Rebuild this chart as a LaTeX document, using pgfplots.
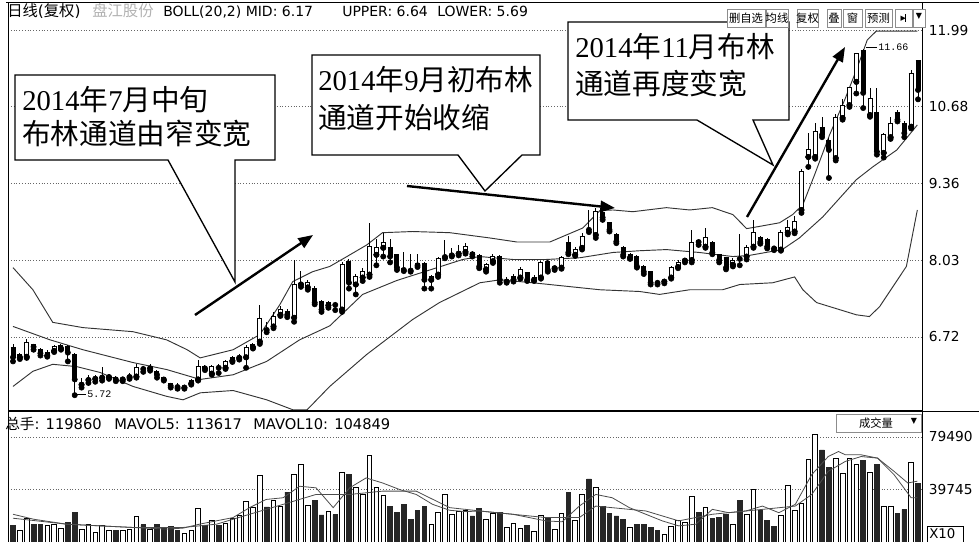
\documentclass[border=0pt]{standalone}
\usepackage{fontspec}
\setmainfont{DejaVu Sans}
\newfontfamily\cjk{Noto Sans CJK SC}
\newfontfamily\serif{Liberation Serif}
\newfontfamily\mono{Liberation Mono}
\usepackage{pgfplots}
\pgfplotsset{compat=1.18}
\usepackage{pgfplotstable}
\usetikzlibrary{arrows.meta}

\newcommand{\cn}[1]{{\cjk #1}}
\newcommand{\callfont}{\fontsize{21.5}{24}\selectfont}

% candles: index, open, high, low, close, volume
\pgfplotstableread{
i O H L C V
0 6.54 6.59 6.30 6.37 12200
1 6.37 6.45 6.34 6.42 9000
2 6.38 6.68 6.36 6.62 18000
3 6.59 6.60 6.50 6.55 13500
4 6.50 6.53 6.40 6.44 13500
5 6.40 6.50 6.38 6.45 12200
6 6.48 6.58 6.46 6.55 13500
7 6.52 6.60 6.50 6.57 10500
8 6.55 6.58 6.30 6.45 14700
9 6.42 6.45 5.72 5.99 22200
10 5.90 6.02 5.85 5.92 9750
11 5.98 6.06 5.93 6.00 13500
12 6.00 6.07 5.95 6.01 7250
13 6.02 6.20 5.97 6.03 12200
14 6.03 6.06 6.00 6.04 9000
15 6.03 6.05 5.96 5.99 9000
16 5.99 6.03 5.96 6.00 9000
17 6.03 6.10 6.00 6.05 9750
18 6.04 6.25 6.02 6.19 19700
19 6.18 6.22 6.12 6.17 13000
20 6.18 6.26 6.14 6.19 9750
21 6.13 6.15 6.02 6.07 13000
22 6.03 6.04 5.97 5.99 11000
23 5.92 5.93 5.85 5.88 11500
24 5.87 5.93 5.83 5.86 8500
25 5.85 5.90 5.83 5.86 6500
26 5.92 6.00 5.90 5.98 9000
27 5.99 6.33 5.97 6.21 25500
28 6.21 6.23 6.15 6.18 12200
29 6.09 6.24 6.07 6.21 16000
30 6.20 6.25 6.10 6.19 12200
31 6.19 6.32 6.17 6.29 14000
32 6.31 6.39 6.29 6.36 18000
33 6.36 6.42 6.33 6.37 20500
34 6.37 6.58 6.19 6.54 30500
35 6.54 6.62 6.52 6.59 26000
36 6.64 7.27 6.60 7.03 50500
37 6.86 6.98 6.80 6.84 26500
38 6.90 7.15 6.87 7.07 31500
39 7.10 7.25 7.08 7.19 27200
40 7.15 7.20 7.06 7.10 37700
41 7.05 8.04 6.98 7.62 51500
42 7.62 7.85 7.58 7.63 59000
43 7.57 7.70 7.53 7.65 28000
44 7.56 7.60 7.28 7.31 31500
45 7.33 7.36 7.15 7.19 20500
46 7.26 7.34 7.22 7.31 23000
47 7.28 7.32 7.18 7.27 20700
48 7.19 8.00 7.15 7.96 52700
49 8.01 8.05 7.55 7.65 51000
50 7.62 7.80 7.45 7.75 41000
51 7.74 7.90 7.68 7.84 36000
52 7.79 8.68 7.75 8.27 65500
53 8.13 8.40 7.95 8.25 41000
54 8.25 8.51 8.10 8.34 35200
55 8.25 8.40 8.00 8.10 27200
56 8.13 8.15 7.87 7.91 22200
57 7.89 8.17 7.85 7.87 28200
58 7.87 8.15 7.84 7.86 17000
59 7.98 8.15 7.92 7.95 24000
60 7.98 8.00 7.55 7.70 27200
61 7.70 7.79 7.55 7.75 13000
62 7.79 8.10 7.75 8.06 22200
63 8.09 8.39 8.07 8.10 36000
64 8.12 8.25 8.10 8.13 20700
65 8.15 8.30 8.12 8.16 23000
66 8.18 8.33 8.15 8.27 24000
67 8.17 8.19 8.10 8.14 19700
68 8.12 8.15 7.90 7.93 25500
69 7.88 7.99 7.84 7.96 17000
70 8.02 8.14 7.99 8.10 21500
71 8.10 8.12 7.65 7.70 22200
72 7.67 7.75 7.65 7.68 11000
73 7.70 7.80 7.67 7.75 14000
74 7.74 7.92 7.72 7.87 10500
75 7.82 7.84 7.68 7.70 12200
76 7.70 7.78 7.68 7.74 8000
77 7.74 8.03 7.72 7.99 20500
78 8.01 8.04 7.84 7.87 18500
79 7.90 7.94 7.87 7.91 9750
80 7.91 8.11 7.89 8.08 21500
81 8.34 8.45 8.14 8.17 37700
82 8.13 8.26 8.11 8.22 16000
83 8.25 8.50 8.22 8.44 36000
84 8.57 8.90 8.52 8.56 47700
85 8.47 8.94 8.42 8.87 41500
86 8.85 8.90 8.73 8.77 27200
87 8.68 8.70 8.53 8.56 21500
88 8.48 8.50 8.33 8.36 19700
89 8.25 8.28 8.10 8.13 17000
90 8.08 8.16 8.06 8.13 11000
91 8.10 8.12 7.91 7.93 13500
92 7.93 7.95 7.80 7.84 13500
93 7.84 7.86 7.62 7.65 11000
94 7.66 7.69 7.62 7.65 8500
95 7.67 7.72 7.64 7.68 6000
96 7.74 7.94 7.72 7.91 11500
97 7.92 8.04 7.90 7.99 16000
98 8.03 8.08 8.00 8.04 14700
99 8.04 8.56 8.00 8.35 34700
100 8.37 8.40 8.30 8.35 22200
101 8.27 8.59 8.25 8.42 26500
102 8.34 8.37 8.14 8.17 17700
103 8.13 8.15 8.00 8.04 18500
104 8.08 8.10 7.88 7.91 21000
105 7.96 8.08 7.93 8.04 13500
106 8.07 8.48 7.95 8.06 31500
107 8.10 8.30 8.05 8.25 21000
108 8.27 8.73 8.25 8.51 39700
109 8.42 8.45 8.32 8.35 23700
110 8.39 8.42 8.24 8.27 16000
111 8.25 8.28 8.21 8.24 11500
112 8.22 8.55 8.20 8.51 20500
113 8.51 8.73 8.48 8.60 42700
114 8.53 8.80 8.50 8.70 23700
115 8.90 9.60 8.85 9.56 29200
116 9.81 10.22 9.64 9.93 62200
117 9.81 10.40 9.78 10.24 81500
118 10.31 10.50 10.15 10.19 69700
119 10.10 10.14 9.45 9.93 56500
120 9.79 10.55 9.75 10.48 63500
121 10.48 10.80 10.45 10.70 52200
122 10.70 11.02 10.67 11.00 63500
123 11.10 11.60 10.90 11.58 59000
124 11.64 11.66 10.65 10.91 61500
125 10.53 11.00 10.50 10.82 53000
126 10.58 11.00 9.85 9.90 59000
127 9.88 10.23 9.80 10.19 27200
128 10.15 10.50 10.12 10.39 27200
129 10.57 10.62 10.42 10.45 21500
130 10.39 10.42 10.15 10.22 24700
131 10.33 11.30 10.30 11.25 60500
132 11.47 11.48 10.80 10.96 44000
}\kdata

\pgfplotsset{
  kpanel/.style={scale only axis, anchor=south west, width=685.5pt,
    xmin=-0.73, xmax=132.58, xtick=\empty,
    axis line style={line width=0.75pt},
    ytick pos=right, yticklabel pos=right, major tick length=0pt,
    scaled y ticks=false,
    ymajorgrids, major grid style={black!60, line width=0.6pt, dash pattern=on 0.6pt off 1.5pt},
    yticklabel style={anchor=west, inner sep=0pt, xshift=5pt, font=\fontsize{10.3}{12}\selectfont},
    clip=true},
  wick/.style={only marks, mark=none,
    error bars/.cd, y dir=plus, y explicit, error mark=none,
    error bar style={line width=0.75pt, draw=black}},
  up/.style={x filter/.expression={\thisrow{C}<\thisrow{O} ? nan : x}},
  down/.style={x filter/.expression={\thisrow{C}<\thisrow{O} ? x : nan}},
}

\begin{document}
\begin{tikzpicture}
\useasboundingbox (0,0) rectangle (734.25pt,-406.5pt);

% price panel
\begin{axis}[kpanel, at={(6pt,-308.25pt)}, height=306pt,
  ymin=5.448, ymax=12.454,
  ytick={6.72,8.03,9.36,10.68,11.99}, yticklabels={6.72,8.03,9.36,10.68,11.99}]
% Bollinger bands
\addplot[black!80, line width=0.7pt, mark=none] coordinates {
(0,7.91) (2.9,7.53) (5.8,6.97) (10.2,6.88) (17.5,6.81) (22.4,6.67) (25.4,6.50)
(27.3,6.36) (32.1,6.50) (36.0,6.76) (38.9,7.27) (40.8,7.67) (43.7,7.84) (46.2,7.93)
(48.7,8.10) (51.6,8.30) (53.9,8.51) (58.3,8.53) (63.7,8.51) (69.5,8.42) (73.5,8.35)
(78.3,8.35) (83.1,8.59) (85.6,8.89) (87.5,8.90) (90.4,8.87) (95.3,8.94) (98.7,8.90)
(102.0,8.94) (105.0,8.82) (107.0,8.58) (108.5,8.61) (111.8,8.68) (113.7,8.82)
(115.2,8.99) (116.9,9.50) (119.1,10.19) (121.3,10.79) (123.0,11.30) (124.6,11.82)
(125.9,11.97) (131.9,11.97)};
\addplot[black!80, line width=0.7pt, mark=none] coordinates {
(0,6.90) (5.4,6.67) (10.2,6.50) (17.5,6.28) (22.4,6.16) (27.3,5.99) (32.1,6.07)
(37.0,6.30) (41.8,6.67) (46.2,6.91) (51.0,7.45) (56.0,7.69) (60.8,7.87) (65.6,8.05)
(68.1,8.10) (72.9,8.05) (77.8,8.05) (82.7,8.08) (87.5,8.17) (91.4,8.20) (95.3,8.22)
(100.1,8.17) (105.0,8.10) (107.4,8.12) (112.2,8.22) (114.7,8.42) (118.1,8.78)
(123.0,9.42) (125.4,9.64) (128.9,9.93) (131.9,10.36)};
\addplot[black!80, line width=0.7pt, mark=none] coordinates {
(0,5.87) (2.9,6.13) (5.8,6.25) (9.3,6.21) (12.7,6.11) (17.5,5.87) (22.4,5.70)
(24.8,5.64) (27.3,5.76) (32.1,5.80) (37.0,5.64) (40.8,5.47) (42.9,5.47) (46.2,5.87)
(51.6,6.42) (58.3,7.02) (62.2,7.31) (68.1,7.65) (71.0,7.70) (75.8,7.65) (85.6,7.53)
(91.4,7.50) (94.3,7.45) (98.7,7.53) (103.5,7.53) (106.0,7.62) (110.8,7.65)
(114.0,7.75) (115.2,7.53) (117.2,7.31) (123.0,7.10) (124.9,7.07) (126.4,7.24)
(130.3,7.93) (131.9,8.90)};
% wicks
\addplot[wick] table[x=i, y=L, y error plus expr=\thisrow{H}-\thisrow{L}] {\kdata};
% falling candles
\addplot[only marks, mark=none, down,
  error bars/.cd, y dir=both, y explicit, error mark=-,
  error mark options={rotate=90, line width=0.75pt, mark size=1.875pt, draw=black},
  error bar style={line width=3.75pt, draw=black}]
  table[x=i, y=C, y error plus expr=\thisrow{O}-\thisrow{C}, y error minus expr=0] {\kdata};
% rising candles: outline, then white inside with top and bottom edges
\addplot[only marks, mark=none, up,
  error bars/.cd, y dir=plus, y explicit, error mark=none,
  error bar style={line width=3.75pt, draw=black}]
  table[x=i, y=O, y error plus expr=\thisrow{C}-\thisrow{O}] {\kdata};
\addplot[only marks, mark=none, up,
  error bars/.cd, y dir=both, y explicit, error mark=-,
  error mark options={rotate=90, line width=0.75pt, mark size=1.875pt, draw=black},
  error bar style={line width=2.25pt, draw=white}]
  table[x=i, y=O, y error plus expr=\thisrow{C}-\thisrow{O}, y error minus expr=0] {\kdata};
\end{axis}

% volume panel
\begin{axis}[kpanel, at={(6pt,-406.5pt)}, height=98.25pt,
  ymin=0, ymax=99170,
  ytick={39745,79490}, yticklabels={39745,79490}]
\addplot[ybar, bar width=3.5pt, bar shift=0pt, fill=white, draw=black, line width=0.6pt, up]
  table[x=i, y=V] {\kdata};
\addplot[ybar, bar width=3.5pt, bar shift=0pt, fill=black!85, draw=black!85, line width=0.6pt, down]
  table[x=i, y=V] {\kdata};
% MAVOL5
\addplot[black!70, line width=0.6pt, mark=none] coordinates {
(0,21000) (3,17250) (7.8,13500) (12.7,12200) (17.5,11000) (22.4,9750) (24.8,10500)
(27.2,13500) (32.1,18500) (34.5,26000) (36.9,32200) (39.4,33500) (41.8,42200)
(44.2,41000) (46.7,26000) (49.1,41000) (51.5,48500) (53.9,44700) (56.4,39700)
(58.8,36000) (61.2,28500) (63.7,24000) (66.1,23000) (68,23500) (72.9,21000)
(77.7,16000) (80.1,15300) (82.6,27200) (85,36000) (87.4,33500) (89.9,26000)
(94.7,16000) (97.1,12200) (99.6,13500) (102,24700) (104.4,22200) (106.9,23500)
(109.3,27200) (111.7,22200) (114.1,28500) (116.5,51000) (118.9,64700) (120.4,68500)
(121.4,66000) (123.7,66000) (126.1,63500) (128.5,53500) (130.5,44700) (131.9,46000)};
% MAVOL10
\addplot[black!70, line width=0.6pt, mark=none] coordinates {
(0,18000) (7.8,13500) (17.5,11000) (24.8,11000) (29.7,13500) (34.5,21000)
(39.4,28500) (44.2,36000) (49.1,36000) (53.9,38500) (58.8,38500) (63.7,26000)
(69,23000) (77.7,18500) (82.6,18500) (85,27200) (92.3,23500) (97.1,16000)
(102,21000) (109.3,24700) (114.1,27200) (116.5,36000) (118.9,53500) (121.4,61000)
(123.7,64700) (126.1,63500) (128.5,51000) (131,33500) (131.9,33500)};
\end{axis}

\begin{scope}[x=0.75pt, y=-0.75pt]
% frame pieces
\draw[line width=0.75pt] (6,3) -- (979,3);
\draw[line width=0.75pt] (922,411) -- (979,411);

% callout 1
\draw[line width=1pt, fill=white] (15,75) -- (275,75) -- (275,160) -- (235,160)
  -- (235,282) -- (168,160) -- (15,160) -- cycle;
\node[anchor=base west, inner sep=0pt, font=\callfont] at (22,111)
  {{\serif 2014}\cn{年}{\serif 7}\cn{月中旬}};
\node[anchor=base west, inner sep=0pt, font=\callfont] at (22,145)
  {\cn{布林通道由窄变宽}};
% callout 2
\draw[line width=1pt, fill=white] (312,55) -- (540,55) -- (540,155) -- (522,155)
  -- (485,191) -- (458,155) -- (312,155) -- cycle;
\node[anchor=base west, inner sep=0pt, font=\callfont] at (318,91)
  {{\serif 2014}\cn{年}{\serif 9}\cn{月初布林}};
\node[anchor=base west, inner sep=0pt, font=\callfont] at (318,128)
  {\cn{通道开始收缩}};
% callout 3
\draw[line width=1pt, fill=white] (568,22) -- (789,22) -- (789,120) -- (753,120)
  -- (773,165) -- (697,120) -- (568,120) -- cycle;
\node[anchor=base west, inner sep=0pt, font=\callfont] at (575,58)
  {{\serif 2014}\cn{年}{\serif 11}\cn{月布林}};
\node[anchor=base west, inner sep=0pt, font=\callfont] at (575,95)
  {\cn{通道再度变宽}};

% arrows
\draw[line width=1.8pt, -{Triangle[length=11pt, width=8.5pt]}] (195,315) -- (313,235);
\draw[line width=1.8pt, -{Triangle[length=11pt, width=8.5pt]}] (407,186) -- (615,208);
\draw[line width=1.8pt, -{Triangle[length=11pt, width=8.5pt]}] (747,217) -- (845,47);

% header of price panel
\node[anchor=base west, inner sep=0pt, font=\fontsize{11.5}{12}\selectfont] at (7,17)
  {\cn{日线}(\cn{复权})};
\node[anchor=base west, inner sep=0pt, font=\fontsize{11.5}{12}\selectfont, text=black!30] at (92,17)
  {\cn{盘江股份}};
\node[anchor=base west, inner sep=0pt, font=\fontsize{10.5}{12}\selectfont] at (163,17)
  {BOLL(20,2) MID: 6.17};
\node[anchor=base west, inner sep=0pt, font=\fontsize{10.5}{12}\selectfont] at (342,17)
  {UPPER: 6.64};
\node[anchor=base west, inner sep=0pt, font=\fontsize{10.5}{12}\selectfont] at (437,17)
  {LOWER: 5.69};

% buttons
\foreach \a/\b/\t in {727/765/删自选, 766/788/均线, 797/818/复权, 827/841/叠, 843/862/窗, 865/892/预测}{
  \draw[black!45, line width=0.6pt, fill=white] (\a,9) rectangle (\b,27);
  \node[font=\fontsize{8.5}{9}\selectfont\cjk, inner sep=0pt] at ({(\a+\b)/2},18) {\t};
}
\draw[black!45, line width=0.6pt, fill=white] (895,9) rectangle (912,27);
\node[font=\fontsize{8}{9}\selectfont, inner sep=0pt] at (903.5,18) {▸\kern-0.5pt\rule[-0.5pt]{0.8pt}{6pt}};
\draw[black!45, line width=0.6pt, fill=white] (913,9) rectangle (925,27);
\node[font=\fontsize{6}{7}\selectfont, inner sep=0pt] at (919,16) {▼};

% low / high marks
\draw[line width=0.6pt] (76,394) -- (86,394);
\node[anchor=west, inner sep=0pt, font=\fontsize{7.5}{8}\selectfont\mono] at (87,394) {5.72};
\draw[line width=0.6pt] (866,47) -- (877,47);
\node[anchor=west, inner sep=0pt, font=\fontsize{7.5}{8}\selectfont\mono] at (878,47) {11.66};

% header of volume panel
\node[anchor=base west, inner sep=0pt, font=\fontsize{11}{12}\selectfont] at (5,429)
  {\cn{总手}: 119860};
\node[anchor=base west, inner sep=0pt, font=\fontsize{11}{12}\selectfont] at (114,429)
  {MAVOL5: 113617};
\node[anchor=base west, inner sep=0pt, font=\fontsize{11}{12}\selectfont] at (253,429)
  {MAVOL10: 104849};
\draw[black!45, line width=0.6pt, fill=white] (836,414) rectangle (921,432);
\node[font=\fontsize{8.5}{9}\selectfont\cjk, inner sep=0pt] at (876,423) {成交量};
\node[font=\fontsize{6}{7}\selectfont, inner sep=0pt] at (914,421) {▼};
\draw[line width=0.75pt] (927,526) rectangle (963,545);
\node[anchor=west, inner sep=0pt, font=\fontsize{10}{12}\selectfont] at (929,534) {X10};
\end{scope}
\end{tikzpicture}
\end{document}
